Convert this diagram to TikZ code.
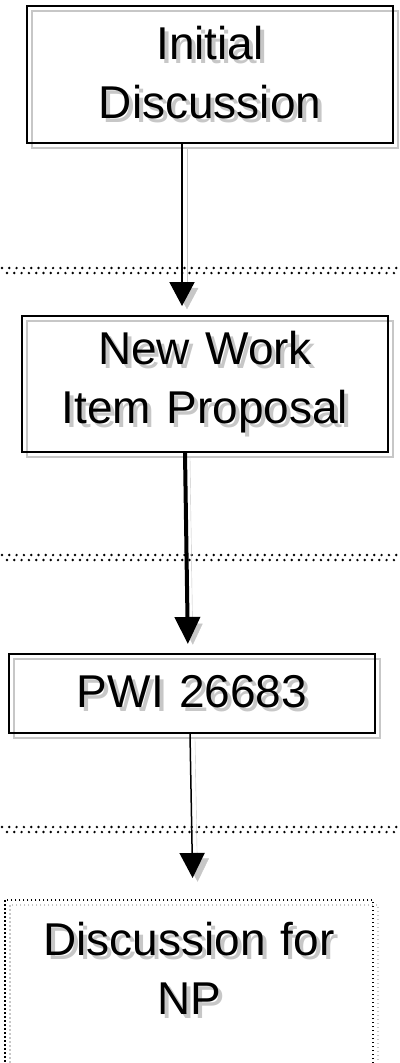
\documentclass[tikz,border=0pt]{standalone}
\usepackage{fontspec}
\setmainfont{Liberation Sans}
\usepackage{tikz}
\usetikzlibrary{positioning}
\usetikzlibrary{arrows.meta}

\definecolor{shade}{gray}{0.78}
% text with a grey copy behind it
\newcommand{\shd}[1]{\makebox[0pt][l]{\raisebox{-4pt}{\hspace{4pt}\textcolor{shade}{#1}}}#1}

\tikzset{
  stagebox/.style={draw, line width=2pt, minimum width=366pt, text width=350pt,
    inner sep=0pt, align=center, font=\fontsize{46}{59}\selectfont,
    preaction={draw=shade, transform canvas={xshift=5pt,yshift=-5pt}}},
  notebox/.style={stagebox, line width=1.5pt, dash pattern=on 1.5pt off 2.5pt},
  flow/.style={-{Triangle[width=25pt,length=24pt]}, line width=2pt,
    preaction={draw=shade, transform canvas={xshift=5pt,yshift=-5pt}}},
  phase/.style={line width=2.7pt, line cap=round, dash pattern=on 0pt off 7.3pt},
  phaseshade/.style={phase, shade, transform canvas={xshift=5pt,yshift=-5pt}}
}

\begin{document}
\begin{tikzpicture}[x=1pt,y=-1pt,node distance=309.5pt,on grid]
    \useasboundingbox (0,0) rectangle (399,1063);
    \clip (0,0) rectangle (399,1063);

    \node[stagebox, minimum height=137pt]            at (210,74.5) (stage_1) {\shd{Initial}\\\shd{Discussion}};
    \node[stagebox, minimum height=136pt, below=of stage_1, xshift=-5pt]  (stage_2) {\shd{New Work}\\\shd{Item Proposal}};
    \node[stagebox, minimum height=79pt, below=of stage_2, xshift=-13pt]  (stage_3) {\shd{PWI 26683}};
    \node[notebox, below=205.5pt of stage_3, xshift=-3pt, anchor=north, minimum width=368pt,
          inner ysep=22pt, text depth=110pt]                              (stage_4) {\shd{Discussion for}\\\shd{NP}};

    % phase separators
    \foreach \y in {268,555,827}{
      \draw[phaseshade] (2,\y) -- (399,\y);
      \draw[phase] (2,\y) -- (399,\y);
    }

    \draw[flow, shorten >=9pt] ([xshift=-28pt]stage_1.south) -- ([xshift=-28pt]stage_1.south |- stage_2.north);
    \draw[flow, line width=4pt, -{Triangle[width=25pt,length=27pt]}, shorten >=9pt]
          ([xshift=-20pt]stage_2.south) -- ([xshift=-4pt]stage_3.north);
    \draw[flow, line width=1.5pt, -{Triangle[width=25pt,length=25pt]}, shorten >=21pt]
          ([xshift=-2pt]stage_3.south) -- ([xshift=4pt]stage_4.north);
\end{tikzpicture}
\end{document}
